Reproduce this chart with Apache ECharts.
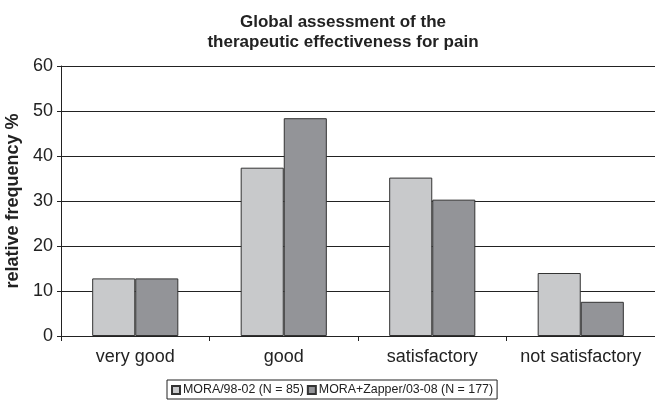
<!DOCTYPE html>
<html>
<head>
<meta charset="utf-8">
<script src="https://cdn.jsdelivr.net/npm/echarts@6/dist/echarts.min.js"></script>
<style>html,body{margin:0;padding:0;background:#fff}#c{width:655px;height:405px}</style>
</head>
<body>
<div id="c"></div>
<script>
const categories = ['very good', 'good', 'satisfactory', 'not satisfactory'];
const seriesNames = ['MORA/98-02 (N = 85)', 'MORA+Zapper/03-08 (N = 177)'];
const mora = [12.8, 37.4, 35.2, 14.0];
const zapper = [12.8, 48.4, 30.3, 7.6];
const yTicks = [0, 10, 20, 30, 40, 50, 60];

const chart = echarts.init(document.getElementById('c'));
const font = 'Liberation Sans, Arial, sans-serif';
chart.setOption({
  animation: false,
  textStyle: { fontFamily: font },
  title: {
    text: 'Global assessment of the\ntherapeutic effectiveness for pain',
    left: 338,
    textAlign: 'center',
    top: 7,
    textStyle: { fontSize: 17, fontWeight: 'bold', color: '#222', lineHeight: 20, fontFamily: font }
  },
  legend: {
    left: 167,
    top: 380,
    borderColor: '#222',
    borderWidth: 1,
    padding: [4, 4, 3, 4],
    itemWidth: 8,
    itemHeight: 8,
    itemGap: 3,
    icon: 'rect',
    textStyle: { fontSize: 12.4, color: '#222', fontFamily: font, padding: [0, 0, 0, -2] },
    data: seriesNames
  },
  grid: { left: 61, right: 0, top: 66, bottom: 69, containLabel: false, outerBoundsMode: 'none' },
  xAxis: {
    type: 'category',
    data: categories,
    axisLine: { lineStyle: { color: '#222', width: 1 } },
    axisTick: { show: true, length: 5, lineStyle: { color: '#222' } },
    axisLabel: { fontSize: 18, color: '#222', margin: 12, fontFamily: font, interval: 0, hideOverlap: false }
  },
  yAxis: {
    type: 'value',
    min: 0,
    max: 60,
    interval: 10,
    name: 'relative frequency %',
    nameLocation: 'middle',
    nameGap: 35,
    nameTextStyle: { fontSize: 18, fontWeight: 'bold', color: '#222', fontFamily: font },
    axisLine: { show: true, lineStyle: { color: '#222', width: 1 } },
    axisTick: { show: true, length: 4, lineStyle: { color: '#222' } },
    axisLabel: { fontSize: 18, color: '#222', margin: 8, fontFamily: font,
      formatter: v => yTicks.includes(v) ? String(v) : '' },
    splitLine: { show: true, lineStyle: { color: '#222', width: 1 } }
  },
  series: [
    {
      name: seriesNames[0], type: 'bar', data: mora,
      barGap: '0%', barCategoryGap: '42%',
      itemStyle: { color: '#c8c9cb', borderColor: '#333', borderWidth: 1 }
    },
    {
      name: seriesNames[1], type: 'bar', data: zapper,
      itemStyle: { color: '#939498', borderColor: '#333', borderWidth: 1 }
    }
  ]
});
</script>
</body>
</html>
